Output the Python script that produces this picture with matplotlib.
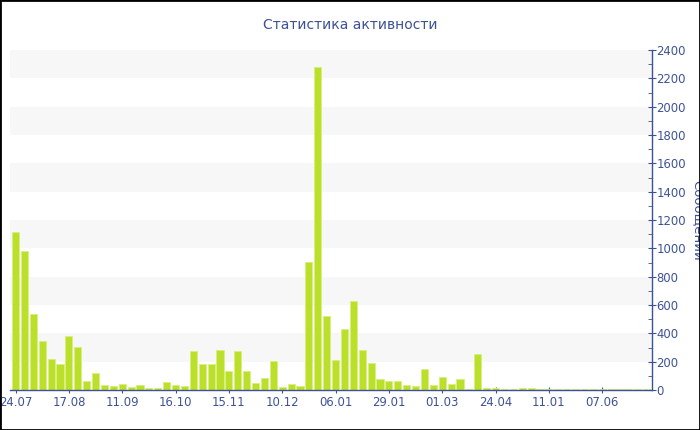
import numpy as np
import matplotlib
matplotlib.use("Agg")
import matplotlib.pyplot as plt
from matplotlib.patches import Rectangle
from matplotlib.ticker import MultipleLocator

# weekly message counts
counts = [1115, 980, 540, 345, 220, 185, 380, 305, 65, 120,
          35, 28, 45, 24, 38, 14, 17, 56, 38, 31,
          278, 183, 183, 280, 134, 273, 136, 52, 85, 207,
          24, 45, 26, 905, 2280, 525, 209, 428, 626, 280,
          190, 79, 66, 66, 38, 31, 146, 35, 89, 45,
          78, 9, 254, 14, 11, 10, 10, 12, 11, 8,
          8, 8, 6, 6, 6, 6, 6, 5, 5, 5,
          5, 5]
tick_labels = ["24.07", "17.08", "11.09", "16.10", "15.11", "10.12",
               "06.01", "29.01", "01.03", "24.04", "11.01", "07.06"]
tick_step = 6

blue = "#3d5196"
bar_color = "#bbe02c"

fig = plt.figure(figsize=(7, 4.3), dpi=100)
ax = fig.add_axes([10 / 700, 40 / 430, 642 / 700, 340 / 430])

x = np.arange(len(counts))

# alternating horizontal bands
for lo in range(200, 2400, 400):
    ax.axhspan(lo, lo + 200, color="#f7f7f7", zorder=0, lw=0)

ax.bar(x, counts, width=0.8, color=bar_color, edgecolor="#d9f07c",
       linewidth=0.6, zorder=2)

ax.set_xlim(-0.62, len(counts) - 0.4)
ax.set_ylim(0, 2400)

ax.yaxis.tick_right()
ax.yaxis.set_label_position("right")
ax.yaxis.set_major_locator(MultipleLocator(200))
ax.yaxis.set_minor_locator(MultipleLocator(100))
ax.set_ylabel("Сообщений", rotation=-90, va="bottom", color=blue, fontsize=9.5)
ax.yaxis.set_label_coords((691 - 10) / 642, 0.5)

ax.set_xticks(x[::tick_step])
ax.set_xticklabels(tick_labels)

for side in ["top", "left"]:
    ax.spines[side].set_visible(False)
for side in ["bottom", "right"]:
    ax.spines[side].set_color(blue)
    ax.spines[side].set_linewidth(1)

ax.tick_params(axis="both", colors=blue, labelcolor=blue, labelsize=8.4)
ax.tick_params(axis="y", which="major", direction="inout", length=6, pad=0)
ax.tick_params(axis="y", which="minor", direction="in", length=3, color=blue)
ax.tick_params(axis="x", direction="inout", length=5, pad=2)

fig.text(0.5, 1 - 25 / 430, "Статистика активности", ha="center", va="center",
         color=blue, fontsize=10)

# frame around the whole picture
fig.patches.append(Rectangle((0, 0), 1, 1, transform=fig.transFigure,
                             fill=False, edgecolor="black", linewidth=2))

fig.savefig("out.png", dpi=100)
